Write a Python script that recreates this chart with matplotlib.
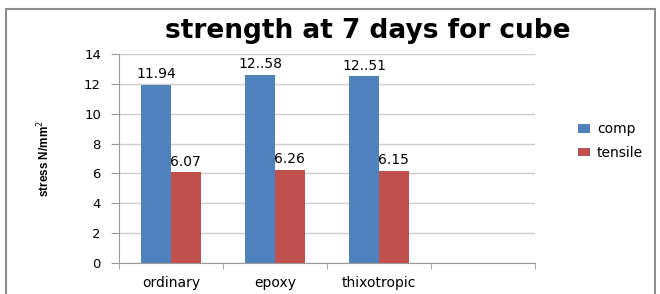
import numpy as np
import matplotlib.pyplot as plt
from matplotlib.patches import Rectangle

categories = ['ordinary', 'epoxy', 'thixotropic', '']
comp = [11.94, 12.58, 12.51]
tensile = [6.07, 6.26, 6.15]
comp_labels = ['11.94', '12..58', '12..51']
tensile_labels = ['6.07', '6.26', '6.15']

fig = plt.figure(figsize=(6.6, 2.94), dpi=100)
# chart frame (bottom edge falls outside the crop)
fig.patches.append(Rectangle((6 / 660, -0.05), 649 / 660, 1.05 - 9 / 294, transform=fig.transFigure,
                             fill=False, edgecolor='#8c8c8c', linewidth=1.5))
ax = fig.add_axes([119 / 660, 1 - 263 / 294, 416 / 660, 209 / 294])

w = 30 / 105
x = np.arange(len(comp))
ax.bar(x - w / 2 + 0.5, comp, w, color='#4F81BD', label='comp')
ax.bar(x + w / 2 + 0.5, tensile, w, color='#C0504D', label='tensile')

for xi, v, t in zip(x, comp, comp_labels):
    ax.text(xi + 0.5 - w / 2, v + 0.25, t, ha='center', va='bottom', fontsize=10)
for xi, v, t in zip(x, tensile, tensile_labels):
    ax.text(xi + 0.5 + w / 2, v + 0.25, t, ha='center', va='bottom', fontsize=10)

ax.set_xlim(0, 4)
ax.set_ylim(0, 14)
ax.set_yticks(range(0, 15, 2))
ax.set_xticks([0.5, 1.5, 2.5, 3.5])
ax.set_xticklabels(categories, fontsize=10)
ax.set_xticks([0, 1, 2, 3, 4], minor=True)
ax.tick_params(axis='x', which='major', length=0, pad=9)
ax.tick_params(axis='x', which='minor', length=4, color='#999999')
ax.tick_params(axis='y', labelsize=9.5, length=6, color='#999999', pad=7)
ax.yaxis.grid(True, color='#CCCCCC', linewidth=1.0)
ax.set_axisbelow(True)
for s in ['top', 'right']:
    ax.spines[s].set_visible(False)
ax.spines['left'].set_color('#999999')
ax.spines['bottom'].set_color('#999999')

fig.text(44 / 660, 1 - 158 / 294, 'stress N/mm$^2$', rotation=90, ha='center', va='center',
         fontsize=8.5, family='Liberation Sans', fontweight='bold')
fig.text(368 / 660, 1 - 31 / 294, 'strength at 7 days for cube', ha='center', va='center',
         fontsize=19, fontweight='bold')

fig.legend(loc='center left', bbox_to_anchor=(565 / 660, 0.52), frameon=False,
           fontsize=10, handlelength=0.9, handleheight=0.6, handletextpad=0.5, labelspacing=0.7)

fig.savefig('out.png', dpi=100)
